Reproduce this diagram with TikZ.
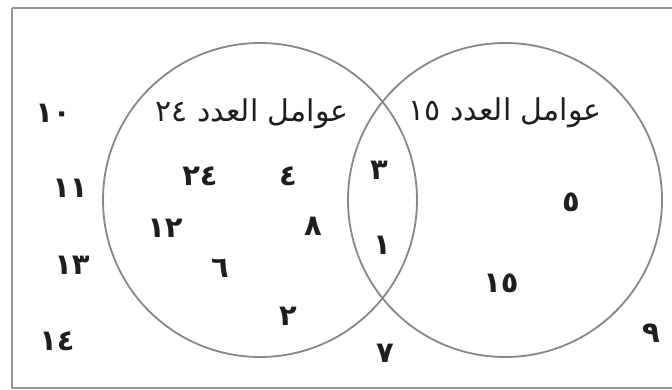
\documentclass[tikz,border=0pt]{standalone}
\usepackage{fontspec}
\TeXXeTstate=1
\newfontfamily\arabicfont[Script=Arabic]{DejaVu Sans}
\definecolor{linegray}{RGB}{135,135,135}
\definecolor{framegray}{RGB}{150,150,150}
\definecolor{textdark}{RGB}{30,30,30}
\tikzset{
  setcircle/.style={circle, draw=linegray, line width=1.8pt, minimum size=314pt, inner sep=0pt},
  num/.style={font=\arabicfont\bfseries\fontsize{29}{33}\selectfont, text=textdark, inner sep=0pt},
  setlabel/.style={font=\arabicfont\fontsize{30}{34}\selectfont, text=textdark, inner sep=0pt},
}
\begin{document}
\begin{tikzpicture}[x=1pt,y=-1pt]
\useasboundingbox (0,0) rectangle (672,390);
\clip (0,0) rectangle (672,390);
\draw[framegray, line width=2pt] (12,8) -- (800,8) (12,8) -- (12,388) -- (800,388);
\node[setcircle] (A) at (260,200) {};
\node[setcircle] (B) at (505,200) {};
\node[setlabel] (LA) at (252,114) {\beginR عوامل العدد ٢٤\endR};
\node[setlabel] (LB) at (505,113) {\beginR عوامل العدد ١٥\endR};
\node[num] (n10) at (53,113) {١٠};
\node[num] (n11) at (70,188) {١١};
\node[num] (n13) at (72,265) {١٣};
\node[num] (n14) at (57,341) {١٤};
\node[num] (n24) at (200,176) {٢٤};
\node[num] (n4) at (288,176) {٤};
\node[num] (n12) at (165,228) {١٢};
\node[num] (n8) at (313,226) {٨};
\node[num] (n6) at (220,268) {٦};
\node[num] (n2) at (288,316) {٢};
\node[num] (n3) at (379,170) {٣};
\node[num] (n1) at (382,245) {١};
\node[num] (n5) at (571,202) {٥};
\node[num] (n15) at (501,283) {١٥};
\node[num] (n7) at (385,353) {٧};
\node[num] (n9) at (651,333) {٩};
\end{tikzpicture}
\end{document}
